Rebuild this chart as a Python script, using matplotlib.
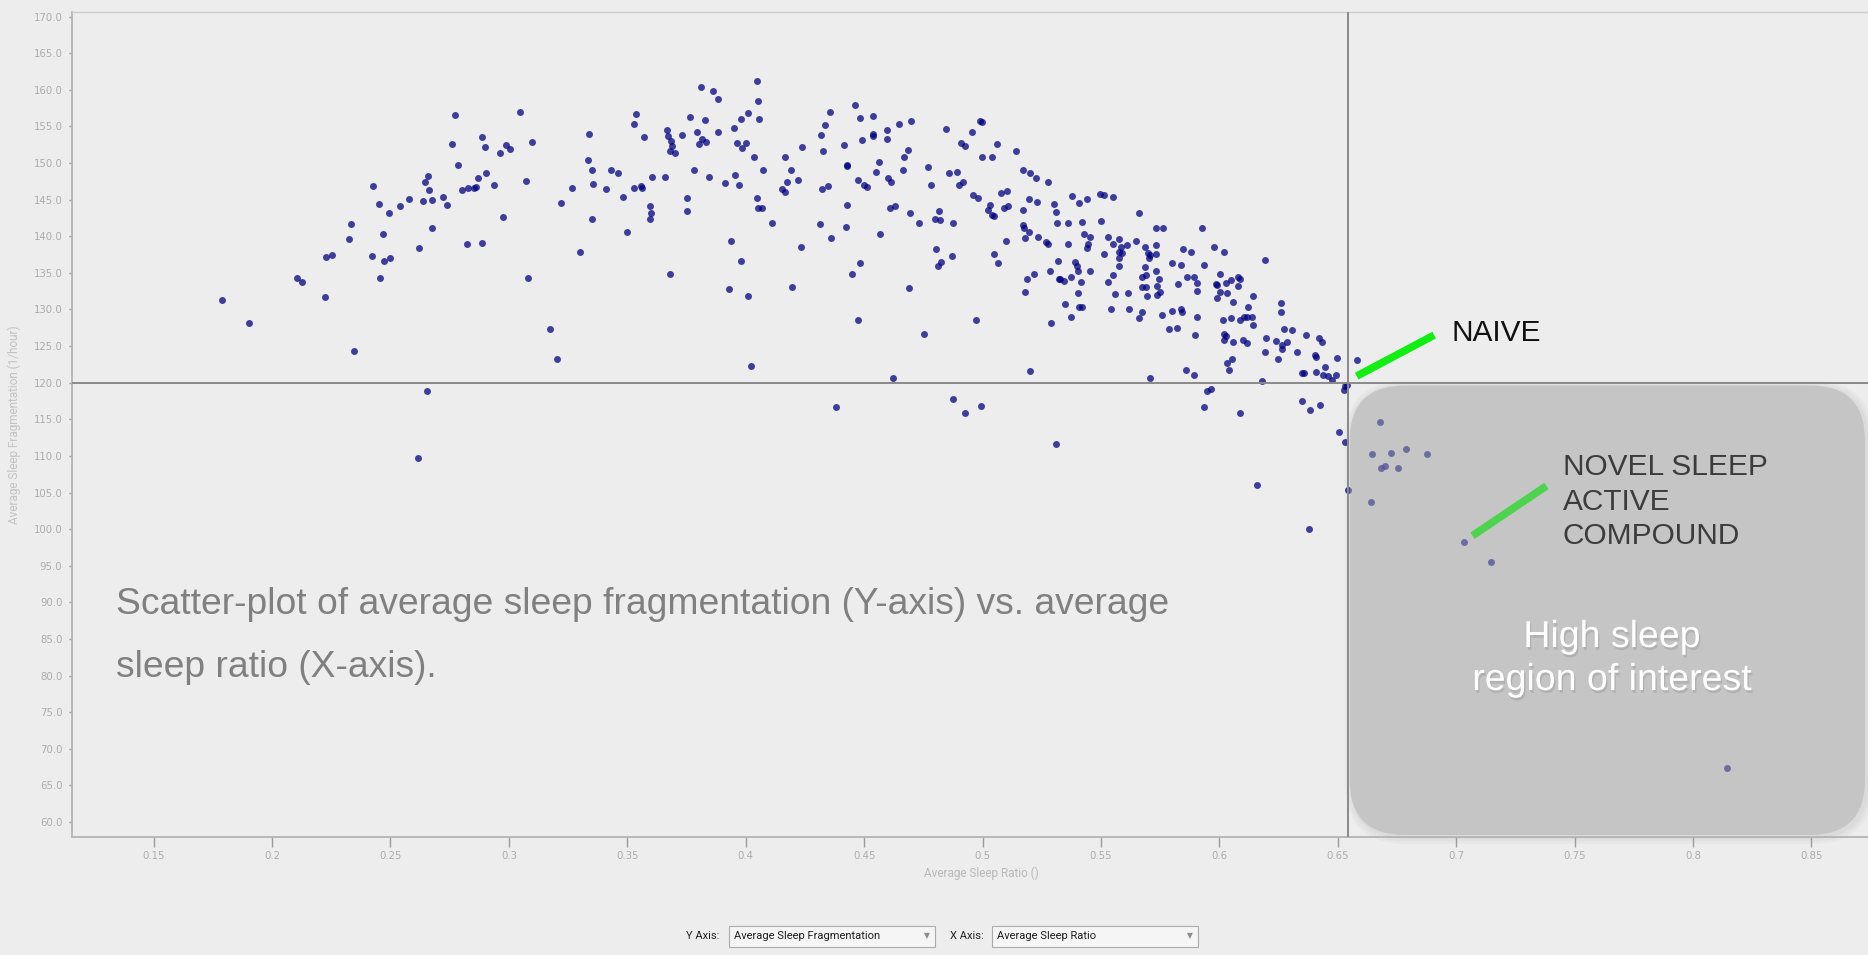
import matplotlib
matplotlib.use("Agg")
import matplotlib.pyplot as plt
import matplotlib.patheffects as pe
from matplotlib.patches import FancyBboxPatch, Rectangle
from matplotlib.transforms import IdentityTransform

W, H = 1868, 955
BG = "#ededed"

# average sleep ratio / average sleep fragmentation (1/hour), one entry per animal
sleep_ratio = [
    0.1790, 0.1903, 0.2105, 0.2125, 0.2225, 0.2228, 0.2254, 0.2333, 0.2325, 0.2345,
    0.2428, 0.2450, 0.2494, 0.2467, 0.2423, 0.2471, 0.2498, 0.2454, 0.2540, 0.2580,
    0.2636, 0.2675, 0.2644, 0.2657, 0.2663, 0.2675, 0.2619, 0.2723, 0.2740, 0.2759,
    0.2784, 0.2802, 0.2826, 0.2853, 0.2859, 0.2871, 0.2902, 0.2888, 0.2897, 0.2963,
    0.2988, 0.3005, 0.2936, 0.2888, 0.2974, 0.2823, 0.2654, 0.2615, 0.2773,
    0.3047, 0.3096, 0.3071, 0.3079, 0.3175, 0.3202, 0.3219, 0.3265, 0.3300, 0.3340,
    0.3336, 0.3352, 0.3357, 0.3352, 0.3409, 0.3430, 0.3461, 0.3483, 0.3500, 0.3536,
    0.3530, 0.3569, 0.3530, 0.3559, 0.3564, 0.3604, 0.3596, 0.3600, 0.3596, 0.3661,
    0.3679, 0.3669, 0.3671, 0.3683, 0.3688, 0.3680, 0.3700, 0.3731, 0.3765, 0.3782,
    0.3752, 0.3752, 0.3796, 0.3803, 0.3817, 0.3831, 0.3826, 0.3813, 0.3861, 0.3882,
    0.3882, 0.3844, 0.3913, 0.3938, 0.3930, 0.3978, 0.4009, 0.4021, 0.3952, 0.3956,
    0.3973, 0.3965, 0.3983, 0.4000, 0.3982, 0.4009, 0.4048, 0.4052, 0.4056, 0.4035,
    0.4071, 0.4048, 0.4051, 0.4068, 0.4109, 0.4196, 0.4234, 0.4165, 0.4192, 0.4221,
    0.4173, 0.4152, 0.4165, 0.4238,
    0.4356, 0.4333, 0.4317, 0.4325, 0.4324, 0.4348, 0.4312, 0.4359, 0.4417, 0.4460,
    0.4481, 0.4538, 0.4490, 0.4536, 0.4538, 0.4595, 0.4598, 0.4646, 0.4698, 0.4426,
    0.4429, 0.4473, 0.4500, 0.4512, 0.4564, 0.4550, 0.4602, 0.4615, 0.4669, 0.4684,
    0.4664, 0.4429, 0.4425, 0.4481, 0.4450, 0.4567, 0.4611, 0.4629, 0.4694, 0.4473,
    0.4690, 0.4621, 0.4381, 0.4769, 0.4781, 0.4733, 0.4816, 0.4798, 0.4821, 0.4877,
    0.4802, 0.4826, 0.4811, 0.4869, 0.4754, 0.4845, 0.4857, 0.4894, 0.4916, 0.4901,
    0.4911, 0.4928, 0.4956, 0.4990, 0.4998, 0.4998, 0.5042, 0.5060, 0.4961, 0.4981,
    0.5032, 0.5023, 0.5042, 0.5047, 0.5077, 0.5102, 0.5091, 0.5108, 0.5099, 0.5050,
    0.5064, 0.4973, 0.4877, 0.4928, 0.4994, 0.5142, 0.5171, 0.5202, 0.5225, 0.5275,
    0.5197, 0.5230, 0.5171, 0.5171, 0.5174, 0.5197, 0.5180, 0.5233, 0.5267, 0.5275,
    0.5202, 0.5311, 0.5181, 0.5188, 0.5216, 0.5288, 0.5285, 0.5319, 0.5321, 0.5328,
    0.5346, 0.5373, 0.5350, 0.5373, 0.5402, 0.5406, 0.5420, 0.5415, 0.5389, 0.5398,
    0.5402, 0.5302, 0.5311, 0.5315, 0.5359, 0.5359, 0.5377, 0.5406, 0.5419, 0.5429,
    0.5441, 0.5454, 0.5447, 0.5440, 0.5454, 0.5496, 0.5513, 0.5550, 0.5499, 0.5531,
    0.5553, 0.5578, 0.5585, 0.5578, 0.5591, 0.5609, 0.5577, 0.5577, 0.5513, 0.5550,
    0.5529, 0.5558, 0.5541, 0.5619, 0.5616, 0.5648, 0.5662, 0.5684, 0.5700, 0.5707,
    0.5705, 0.5733, 0.5731, 0.5688, 0.5689, 0.5674, 0.5734, 0.5745, 0.5736, 0.5750,
    0.5738, 0.5696, 0.5672, 0.5691, 0.5672, 0.5662, 0.5733, 0.5762, 0.5758, 0.5798,
    0.5837, 0.5843, 0.5786, 0.5823, 0.5800, 0.5837, 0.5848, 0.5881, 0.5862, 0.5892,
    0.5905, 0.5905, 0.5827, 0.5905, 0.5896, 0.5927, 0.5936, 0.5979, 0.6020, 0.6002,
    0.5985, 0.5989, 0.6003, 0.5989, 0.6027, 0.6031, 0.6048, 0.6080, 0.6088, 0.6079,
    0.6058, 0.6123, 0.6140, 0.6106, 0.6118, 0.6138, 0.6088, 0.6140, 0.6014, 0.6050,
    0.6020, 0.6027, 0.6021, 0.6057, 0.6099, 0.6116, 0.6196, 0.6193, 0.6192, 0.6054,
    0.6031, 0.6041, 0.5858, 0.5892, 0.5709, 0.6178, 0.5948, 0.5965,
    0.6261, 0.6261, 0.6273, 0.6308, 0.6239, 0.6263, 0.6266, 0.6287, 0.6249, 0.6327,
    0.6365, 0.6421, 0.6435, 0.6404, 0.6407, 0.6496, 0.6583, 0.6348, 0.6358, 0.6408,
    0.6446, 0.6439, 0.6460, 0.6475, 0.6492, 0.6531, 0.6538, 0.6527,
    0.5936, 0.6088, 0.6348, 0.6383, 0.6423, 0.6504, 0.6530, 0.6157, 0.6544, 0.6379,
    0.6679, 0.6644, 0.6725, 0.6787, 0.6683, 0.6700, 0.6756, 0.6640,
    0.6877, 0.7033, 0.7149, 0.8145,
]
sleep_frag = [
    131.3, 128.1, 134.3, 133.7, 131.7, 137.2, 137.4, 141.7, 139.6, 124.3,
    146.9, 144.4, 143.2, 140.3, 137.3, 136.6, 137.0, 134.3, 144.2, 145.1,
    144.8, 144.9, 147.4, 148.2, 146.3, 141.1, 138.4, 145.4, 144.3, 152.6,
    149.8, 146.3, 146.6, 146.6, 146.8, 147.9, 148.7, 153.6, 152.2, 151.4,
    152.5, 151.9, 147.0, 139.1, 142.7, 139.0, 118.9, 109.7, 156.6,
    157.0, 152.9, 147.6, 134.3, 127.4, 123.3, 144.5, 146.6, 137.8, 154.0,
    150.4, 149.0, 147.1, 142.4, 146.4, 149.0, 148.7, 145.4, 140.6, 156.7,
    155.4, 153.5, 146.6, 146.9, 146.6, 148.1, 144.2, 143.2, 142.3, 148.1,
    134.8, 154.5, 153.7, 153.0, 152.4, 151.7, 151.4, 153.9, 156.3, 149.1,
    145.2, 143.4, 154.2, 152.6, 153.3, 152.9, 155.9, 160.4, 159.8, 158.8,
    154.3, 148.1, 147.3, 139.3, 132.8, 136.6, 131.8, 122.3, 154.8, 148.4,
    147.0, 152.7, 152.0, 152.7, 156.0, 156.8, 161.2, 158.5, 156.0, 150.9,
    149.1, 145.2, 143.9, 143.9, 141.8, 133.1, 138.6, 150.8, 149.0, 147.7,
    147.4, 146.4, 146.0, 152.2,
    157.0, 155.2, 153.8, 151.7, 146.5, 146.9, 141.7, 139.7, 152.5, 158.0,
    156.2, 156.4, 153.2, 154.0, 153.7, 154.5, 153.3, 155.3, 155.8, 149.8,
    149.6, 147.7, 147.0, 146.7, 150.1, 148.8, 147.9, 147.4, 150.9, 151.8,
    149.1, 144.3, 141.3, 136.4, 134.8, 140.3, 143.9, 144.2, 143.2, 128.5,
    133.0, 120.6, 116.7, 149.4, 147.0, 141.8, 143.5, 142.4, 142.2, 141.8,
    138.3, 136.5, 135.9, 137.3, 126.7, 154.7, 148.6, 148.8, 147.4, 147.0,
    152.8, 152.3, 154.2, 155.7, 155.6, 150.8, 150.8, 152.6, 145.6, 145.2,
    144.3, 143.6, 142.9, 142.8, 145.9, 146.2, 143.9, 144.2, 139.4, 137.6,
    136.4, 128.6, 117.8, 115.9, 116.8, 151.7, 149.0, 148.7, 147.9, 147.4,
    145.1, 144.7, 143.6, 141.5, 141.1, 140.6, 139.8, 139.9, 139.2, 138.9,
    121.6, 111.6, 132.4, 134.1, 134.9, 128.2, 135.2, 136.6, 134.1, 134.1,
    133.9, 134.4, 130.8, 129.0, 132.2, 130.4, 130.4, 133.8, 136.5, 135.9,
    135.2, 144.4, 143.3, 141.8, 141.8, 138.9, 145.5, 144.5, 142.0, 140.3,
    145.1, 139.9, 139.0, 138.4, 135.3, 145.8, 145.6, 145.4, 142.1, 139.9,
    139.0, 139.6, 138.6, 137.9, 137.7, 138.8, 137.0, 135.9, 137.6, 134.7,
    133.8, 132.1, 130.0, 130.0, 132.3, 139.3, 143.2, 138.6, 137.7, 137.4,
    137.0, 138.8, 137.6, 135.8, 134.7, 134.4, 135.3, 134.1, 133.2, 132.4,
    132.0, 131.8, 133.1, 133.1, 129.6, 128.8, 141.2, 141.2, 129.3, 129.8,
    130.0, 129.7, 127.4, 127.5, 136.4, 136.1, 138.2, 137.8, 134.4, 134.4,
    133.6, 132.5, 133.5, 129.0, 126.5, 141.1, 136.1, 138.6, 137.9, 134.9,
    133.5, 133.4, 132.4, 131.6, 133.6, 132.3, 134.0, 134.5, 134.1, 133.2,
    131.0, 130.4, 131.8, 129.0, 129.0, 129.0, 128.6, 127.9, 128.6, 128.9,
    126.7, 126.4, 125.8, 125.6, 125.9, 125.4, 126.1, 124.2, 136.7, 123.2,
    122.7, 121.8, 121.7, 121.0, 120.6, 120.2, 118.8, 119.2,
    130.9, 129.6, 127.3, 127.2, 125.7, 125.2, 124.6, 125.5, 123.2, 124.2,
    126.5, 126.1, 125.6, 123.8, 123.5, 123.4, 123.1, 121.3, 121.3, 121.4,
    122.2, 121.0, 120.9, 120.4, 121.1, 119.5, 119.7, 119.0,
    116.7, 115.8, 117.5, 116.3, 116.9, 113.2, 111.9, 106.0, 105.3, 100.0,
    114.6, 110.2, 110.4, 110.9, 108.3, 108.6, 108.4, 103.7,
    110.2, 98.2, 95.5, 67.3,
]

x_ticks = [0.15, 0.2, 0.25, 0.3, 0.35, 0.4, 0.45, 0.5, 0.55, 0.6, 0.65, 0.7, 0.75, 0.8, 0.85]
y_ticks = [60, 65, 70, 75, 80, 85, 90, 95, 100, 105, 110, 115, 120, 125, 130, 135,
           140, 145, 150, 155, 160, 165, 170]

naive_ratio = 0.6542   # crosshair through the naive group
naive_frag = 119.9

note_lines = ["Scatter-plot of average sleep fragmentation (Y-axis) vs. average",
              "sleep ratio (X-axis)."]
compound_lines = ["NOVEL SLEEP", "ACTIVE", "COMPOUND"]
region_lines = ["High sleep", "region of interest"]


def fx(px):
    return px / W


def fy(py):
    return 1 - py / H


fig = plt.figure(figsize=(W / 100, H / 100), dpi=100, facecolor=BG)
ax = fig.add_axes([fx(71.5), fy(837), (W - 71.5) / W, (837 - 12) / H])
ax.set_facecolor(BG)
ax.set_xlim(0.1153, 0.8739)
ax.set_ylim(57.94, 170.64)

ax.scatter(sleep_ratio, sleep_frag, s=25, c="#000080", alpha=0.74,
           linewidths=0, zorder=2)

ax.axvline(naive_ratio, color="#8a8a8a", lw=1.4, zorder=4)
ax.axhline(naive_frag, color="#8a8a8a", lw=1.4, zorder=4)

for side in ["left", "bottom"]:
    ax.spines[side].set_color("#b4b4b4")
    ax.spines[side].set_linewidth(1.3)
ax.spines["top"].set_color("#cdcdcd")
ax.spines["top"].set_linewidth(1.0)
ax.spines["right"].set_visible(False)

ax.set_xticks(x_ticks)
ax.set_xticklabels([f"{v:g}" for v in x_ticks])
ax.set_yticks(y_ticks)
ax.set_yticklabels([f"{v:.1f}" for v in y_ticks])
ax.tick_params(axis="x", direction="out", length=7, width=1, color="#9c9c9c",
               labelsize=7.3, labelcolor="#ababab", pad=3)
ax.tick_params(axis="y", direction="out", length=2.5, width=1, color="#9c9c9c",
               labelsize=7.3, labelcolor="#ababab", pad=4)

# shaded region of interest, placed in pixels so the corners stay round
x0, y_top = ax.transData.transform((naive_ratio, naive_frag))
_, y_bot = ax.transData.transform((naive_ratio, 57.94))
x0 += 2
y_top -= 2
y_bot += 2
x1 = W - 3
bw, bh = x1 - x0, y_top - y_bot
rad = 55
for grow in [7, 4.5, 2]:
    sh = FancyBboxPatch((x0 - grow + 2, y_bot - grow - 2), bw + 2 * grow, bh + 2 * grow,
                        boxstyle=f"round,pad=0,rounding_size={rad + grow}",
                        fc="black", ec="none", alpha=0.025,
                        transform=IdentityTransform(), clip_on=False, zorder=1)
    ax.add_patch(sh)
box = FancyBboxPatch((x0, y_bot), bw, bh, boxstyle=f"round,pad=0,rounding_size={rad}",
                     fc=(0.675, 0.675, 0.675), ec="none", alpha=0.45,
                     transform=IdentityTransform(), clip_on=False, zorder=3)
ax.add_patch(box)

# pointer bars
ax.plot([0.6580, 0.6907], [120.9, 126.5], color="#11ee11", lw=5.5,
        solid_capstyle="butt", zorder=5)
ax.plot([0.7069, 0.7381], [99.1, 105.9], color="#4dd34d", lw=5.5,
        solid_capstyle="butt", zorder=5)

sans = "Liberation Sans"
fig.text(fx(115.6), fy(614), note_lines[0], fontsize=26.8, color="#808080",
         family=sans, va="baseline")
fig.text(fx(115.6), fy(677), note_lines[1], fontsize=26.8, color="#808080",
         family=sans, va="baseline")

fig.text(fx(1451), fy(340.7), "NAIVE", fontsize=21.5, color="#111111",
         family=sans, va="baseline")
for line, base in zip(compound_lines, [475, 510, 544]):
    fig.text(fx(1563), fy(base), line, fontsize=21.5, color="#3c3c3c",
             family=sans, va="baseline")

shadow = [pe.SimplePatchShadow(offset=(1, -2), shadow_rgbFace="#777777", alpha=0.25),
          pe.Normal()]
for line, base in zip(region_lines, [647, 690]):
    fig.text(fx(1612), fy(base), line, fontsize=27, color="white", family=sans,
             ha="center", va="baseline", path_effects=shadow)

ui = "Roboto"
fig.text(fx(981.6), fy(873), "Average Sleep Ratio ()", fontsize=8.5,
         color="#b9b9b9", family=ui, ha="center", va="center")
fig.text(fx(14.3), fy(425), "Average Sleep Fragmentation (1/hour)", fontsize=8.5,
         color="#c2c2c2", family=ui, ha="center", va="center", rotation=90)

# axis selectors under the chart
for label, lx, bx0, bx1, value in [("Y Axis:", 719.5, 729, 935, "Average Sleep Fragmentation"),
                                   ("X Axis:", 984, 992, 1198, "Average Sleep Ratio")]:
    fig.text(fx(lx), fy(936), label, fontsize=8, color="#222222", family=ui,
             ha="right", va="center")
    fig.add_artist(Rectangle((fx(bx0), fy(947)), (bx1 - bx0) / W, 21.4 / H,
                             transform=fig.transFigure, fc="#f5f5f5", ec="#acacac", lw=0.8))
    fig.text(fx(bx0 + 5), fy(936), value, fontsize=8, color="#1e1e1e", family=ui,
             ha="left", va="center")
    fig.text(fx(bx1 - 8), fy(936), "\u25bc", fontsize=5.5, color="#8c8c8c",
             family="DejaVu Sans", ha="center", va="center")

fig.savefig("out.png", dpi=100, facecolor=BG)
